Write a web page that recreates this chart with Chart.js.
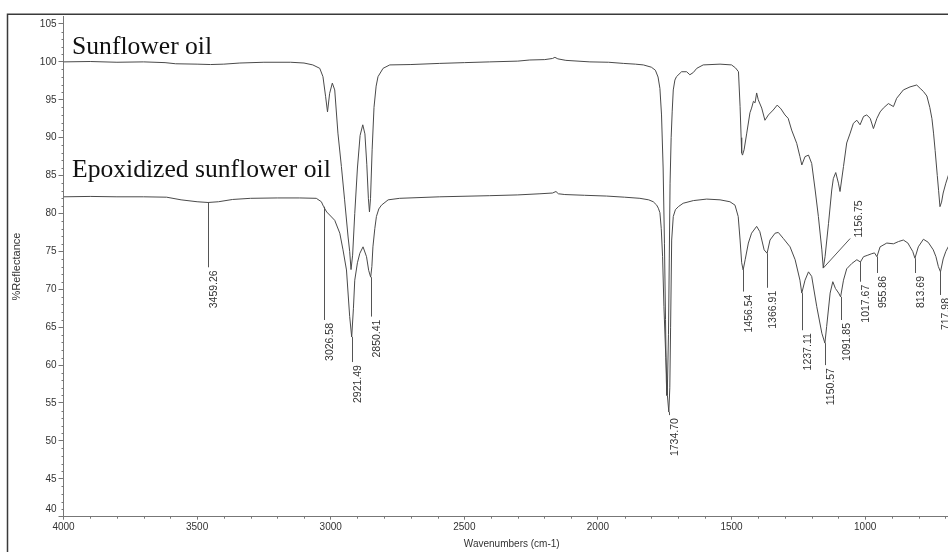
<!DOCTYPE html>
<html>
<head>
<meta charset="utf-8">
<script src="https://cdn.jsdelivr.net/npm/chart.js@4/dist/chart.umd.min.js"></script>
<style>
  html, body { margin: 0; padding: 0; background: #fff; overflow: hidden; }
  canvas { display: block; }
</style>
</head>
<body>
<canvas id="spectrum" width="960" height="552" style="width:960px;height:552px"></canvas>
<script>
// FTIR reflectance spectra (wavenumber in cm-1, %R)
const sunflowerWn = [4000, 3900, 3800, 3700, 3620, 3580, 3500, 3450, 3400, 3340, 3250, 3150, 3100, 3067, 3041, 3029, 3019, 3012, 3004, 2994, 2985, 2973, 2960, 2948, 2935, 2929, 2924, 2918, 2910, 2900, 2890, 2880, 2872, 2865, 2859, 2855, 2851, 2845, 2838, 2830, 2823, 2804, 2779, 2700, 2592, 2500, 2405, 2300, 2255, 2199, 2170, 2161, 2150, 2120, 2030, 1960, 1905, 1860, 1830, 1800, 1785, 1775, 1768, 1762, 1756, 1751, 1747, 1744, 1742, 1740, 1736, 1733, 1730, 1726, 1722, 1718, 1712, 1706, 1687, 1668, 1656, 1643, 1630, 1606, 1543, 1500, 1485, 1474, 1468, 1464, 1462, 1459, 1453, 1443, 1431, 1425, 1418, 1412, 1406, 1400, 1387, 1375, 1362, 1344, 1329, 1315, 1300, 1288, 1275, 1256, 1244, 1237, 1225, 1212, 1200, 1187, 1175, 1162, 1156.75, 1150, 1137, 1125, 1119, 1110, 1100, 1094, 1081, 1069, 1056, 1044, 1031, 1019, 1006, 994, 981, 969, 956, 944, 932, 913, 894, 882, 857, 832, 807, 794, 782, 769, 758, 750, 744, 738, 730, 725, 720, 714, 708, 698, 686];
const sunflowerR = [100.0, 100.05, 99.95, 100.0, 99.9, 99.75, 99.7, 99.65, 99.7, 99.85, 99.95, 99.95, 99.85, 99.6, 99.15, 98.05, 95.4, 93.4, 95.85, 97.2, 96.3, 90.6, 86.2, 81.8, 76.9, 75.0, 72.6, 74.5, 80.0, 86.0, 90.3, 91.7, 90.5, 86.5, 82.0, 80.2, 82.0, 88.4, 94.0, 96.8, 98.05, 99.15, 99.6, 99.65, 99.8, 99.9, 100.0, 100.1, 100.25, 100.3, 100.45, 100.6, 100.4, 100.2, 100.0, 99.95, 99.8, 99.7, 99.6, 99.3, 98.9, 98.0, 96.5, 93.0, 86.0, 76.0, 66.0, 58.0, 56.0, 57.0, 64.0, 74.0, 84.0, 90.0, 93.5, 96.3, 97.6, 98.05, 98.7, 98.7, 98.3, 98.6, 99.15, 99.6, 99.7, 99.6, 99.2, 98.7, 94.1, 90.0, 88.0, 87.7, 88.4, 90.6, 93.3, 93.9, 94.8, 94.6, 95.9, 95.0, 93.9, 92.3, 93.0, 93.65, 94.3, 93.8, 93.0, 92.55, 91.0, 89.25, 87.5, 86.4, 87.5, 87.7, 86.6, 83.1, 79.6, 75.2, 72.8, 74.3, 78.7, 83.1, 84.6, 85.4, 84.0, 82.9, 86.2, 89.3, 90.6, 91.9, 92.3, 91.7, 92.8, 93.0, 92.55, 91.2, 92.55, 93.4, 93.9, 94.5, 94.1, 95.2, 96.3, 96.7, 96.95, 96.5, 96.1, 95.5, 94.0, 92.5, 90.6, 88.3, 85.0, 83.0, 80.9, 81.5, 82.7, 84.0, 85.3];

const epoxyWn = [4000, 3900, 3800, 3700, 3614, 3560, 3500, 3459.26, 3420, 3367, 3300, 3200, 3116, 3054, 3035, 3026.58, 3015, 3004, 2985, 2966, 2954, 2941, 2929, 2921.49, 2915, 2910, 2900, 2891, 2879, 2866, 2858, 2850.41, 2846, 2842, 2835, 2829, 2820, 2810, 2785, 2742, 2592, 2405, 2300, 2217, 2170, 2157, 2148, 2124, 2050, 1968, 1900, 1843, 1810, 1793, 1780, 1774, 1768, 1763, 1758, 1753, 1746, 1740, 1734.70, 1731, 1728, 1724, 1718, 1710, 1699, 1681, 1643, 1593, 1543, 1506, 1487, 1475, 1468, 1462, 1456.54, 1449, 1437, 1425, 1406, 1394, 1378, 1366.91, 1356, 1337, 1325, 1306, 1281, 1262, 1244, 1237.11, 1225, 1212, 1200, 1181, 1162, 1150.57, 1144, 1131, 1121, 1111, 1099, 1091.85, 1081, 1069, 1050, 1031, 1017.67, 1006, 990, 975, 965, 955.86, 944, 919, 894, 875, 857, 840, 832, 822, 813.69, 801, 782, 764, 745, 735, 726, 717.98, 708, 698, 686];
const epoxyR = [82.2, 82.25, 82.2, 82.2, 82.15, 81.8, 81.55, 81.45, 81.55, 81.85, 82.0, 82.05, 82.05, 82.0, 81.55, 80.9, 80.2, 79.8, 79.1, 77.4, 75.2, 72.55, 66.4, 63.7, 67.5, 71.2, 73.5, 74.75, 75.6, 74.3, 72.5, 71.6, 73.0, 75.6, 78.0, 79.6, 80.6, 81.1, 81.8, 82.0, 82.2, 82.35, 82.45, 82.6, 82.7, 82.9, 82.6, 82.5, 82.4, 82.3, 82.15, 82.0, 81.8, 81.55, 81.1, 80.7, 80.1, 78.0, 74.3, 67.7, 61.0, 56.0, 53.8, 57.0, 65.0, 76.5, 79.6, 80.5, 80.9, 81.35, 81.7, 81.9, 81.8, 81.55, 81.1, 79.6, 76.5, 73.5, 72.55, 73.9, 76.1, 77.4, 78.3, 77.6, 75.2, 74.75, 76.5, 77.4, 77.5, 76.7, 75.6, 73.9, 71.2, 69.5, 71.2, 72.3, 71.7, 67.7, 64.2, 62.9, 65.1, 69.5, 71.0, 70.1, 69.5, 69.0, 71.2, 72.7, 73.4, 73.9, 73.6, 74.3, 74.5, 74.7, 74.8, 74.3, 75.6, 76.1, 76.0, 76.3, 76.5, 76.1, 75.6, 75.0, 74.1, 75.6, 76.6, 76.2, 75.2, 74.3, 73.0, 72.3, 74.0, 75.0, 75.8];

// Peak picks on the epoxidized spectrum and where each label's leader ends (%R)
const epoxyPeaks = [3459.26, 3026.58, 2921.49, 2850.41, 1734.70, 1456.54, 1366.91, 1237.11, 1150.57, 1091.85, 1017.67, 955.86, 813.69, 717.98];
const epoxyLabelLevels = [72.9, 65.95, 60.4, 66.4, 53.4, 69.7, 70.2, 64.6, 60.0, 65.95, 71.0, 72.15, 72.15, 69.25];

// Peak pick on the sunflower oil spectrum, with an angled leader
const sunflowerPeaks = [1156.75];
const sunflowerLeaderEnds = [[1056, 76.7]];

// Spectrum captions: anchor wavenumber and %R of the text baseline
const seriesNames = ['Sunflower oil', 'Epoxidized sunflower oil'];
const captionAnchors = [[3968, 101.1], [3968, 84.85]];

// Axis ticks
const xTickValues = [4000, 3500, 3000, 2500, 2000, 1500, 1000];
const yTickValues = [40, 45, 50, 55, 60, 65, 70, 75, 80, 85, 90, 95, 100, 105];
const xMinorStep = 100, yMinorStep = 1;

const toPoints = (wn, r) => wn.map((w, i) => ({ x: w, y: r[i] }));

function valueAt(wn, r, w) {
  for (let i = 0; i < wn.length - 1; i++) {
    const a = wn[i], b = wn[i + 1];
    if (w <= a && w >= b) {
      const t = (a - w) / (a - b);
      return r[i] + t * (r[i + 1] - r[i]);
    }
  }
  return r[r.length - 1];
}

const LINE = '#4a4a4a';
const AXIS = '#777';
const TEXT = '#333';
const SANS = '"Liberation Sans", Arial, sans-serif';

const frame = {
  id: 'frame',
  afterDraw(chart) {
    const ctx = chart.ctx;
    ctx.save();
    ctx.strokeStyle = '#3a3a3a';
    ctx.lineWidth = 1.5;
    ctx.beginPath();
    ctx.moveTo(7.5, 552);
    ctx.lineTo(7.5, 14.25);
    ctx.lineTo(chart.width, 14.25);
    ctx.stroke();
    ctx.restore();
  }
};

const minorTicks = {
  id: 'minorTicks',
  afterDraw(chart) {
    const { ctx, scales: { x, y } } = chart;
    ctx.save();
    ctx.strokeStyle = AXIS;
    ctx.lineWidth = 1;
    ctx.beginPath();
    for (let v = Math.ceil(y.min); v < y.max; v += yMinorStep) {
      if (yTickValues.includes(v)) continue;
      const py = Math.round(y.getPixelForValue(v)) + 0.5;
      ctx.moveTo(x.left - 2, py);
      ctx.lineTo(x.left, py);
    }
    const start = Math.ceil(x.min / xMinorStep) * xMinorStep;
    for (let w = start; w < x.max; w += xMinorStep) {
      if (xTickValues.includes(w)) continue;
      const px = Math.round(x.getPixelForValue(w)) + 0.5;
      ctx.moveTo(px, y.bottom);
      ctx.lineTo(px, y.bottom + 2);
    }
    ctx.stroke();
    // the lowest y label sits just above the x axis
    ctx.fillStyle = TEXT;
    ctx.font = '10px ' + SANS;
    ctx.textAlign = 'right';
    ctx.textBaseline = 'middle';
    ctx.fillText(String(yTickValues[0]), x.left - 7, y.getPixelForValue(yTickValues[0]) - 7);
    ctx.restore();
  }
};

const peakLabels = {
  id: 'peakLabels',
  afterDatasetsDraw(chart) {
    const { ctx, scales: { x, y } } = chart;
    ctx.save();
    ctx.strokeStyle = '#555';
    ctx.lineWidth = 1;
    ctx.fillStyle = TEXT;
    ctx.font = '10.5px ' + SANS;
    ctx.textBaseline = 'middle';

    epoxyPeaks.forEach((w, i) => {
      const px = Math.round(x.getPixelForValue(w)) + 0.5;
      const y0 = y.getPixelForValue(valueAt(epoxyWn, epoxyR, w));
      const y1 = y.getPixelForValue(epoxyLabelLevels[i]);
      ctx.beginPath();
      ctx.moveTo(px, y0);
      ctx.lineTo(px, y1);
      ctx.stroke();
      ctx.save();
      ctx.translate(px + 5.5, y1 + 3);
      ctx.rotate(-Math.PI / 2);
      ctx.textAlign = 'right';
      ctx.fillText(w.toFixed(2), 0, 0);
      ctx.restore();
    });

    sunflowerPeaks.forEach((w, i) => {
      const px = x.getPixelForValue(w);
      const py = y.getPixelForValue(valueAt(sunflowerWn, sunflowerR, w));
      const ex = x.getPixelForValue(sunflowerLeaderEnds[i][0]);
      const ey = y.getPixelForValue(sunflowerLeaderEnds[i][1]);
      ctx.beginPath();
      ctx.moveTo(px, py);
      ctx.lineTo(ex, ey);
      ctx.stroke();
      ctx.save();
      ctx.translate(ex + 8.5, ey - 1);
      ctx.rotate(-Math.PI / 2);
      ctx.textAlign = 'left';
      ctx.fillText(w.toFixed(2), 0, 0);
      ctx.restore();
    });

    ctx.fillStyle = '#111';
    ctx.font = '25.6px "Liberation Serif", "Times New Roman", serif';
    ctx.textAlign = 'left';
    ctx.textBaseline = 'alphabetic';
    seriesNames.forEach((name, i) => {
      ctx.fillText(name, x.getPixelForValue(captionAnchors[i][0]), y.getPixelForValue(captionAnchors[i][1]));
    });
    ctx.restore();
  }
};

new Chart(document.getElementById('spectrum'), {
  type: 'line',
  data: {
    datasets: [
      { label: seriesNames[0], data: toPoints(sunflowerWn, sunflowerR), borderColor: LINE, borderWidth: 1, pointRadius: 0, tension: 0, fill: false },
      { label: seriesNames[1], data: toPoints(epoxyWn, epoxyR), borderColor: LINE, borderWidth: 1, pointRadius: 0, tension: 0, fill: false }
    ]
  },
  options: {
    responsive: false,
    animation: false,
    events: [],
    layout: { padding: { top: 16.4, left: 0, right: 0, bottom: 0 } },
    plugins: { legend: { display: false }, tooltip: { enabled: false } },
    scales: {
      x: {
        type: 'linear',
        reverse: true,
        min: 645,
        max: 4000,
        afterBuildTicks(scale) { scale.ticks = xTickValues.map(v => ({ value: v })); },
        ticks: {
          autoSkip: false,
          maxRotation: 0,
          padding: 2,
          color: TEXT,
          font: { size: 10, family: SANS },
          callback: v => String(v)
        },
        grid: { drawOnChartArea: false, drawTicks: true, tickLength: 3, color: AXIS },
        border: { display: true, color: AXIS, width: 1 },
        title: { display: true, text: 'Wavenumbers (cm-1)', color: TEXT, font: { size: 10, family: SANS }, padding: { top: 0, bottom: 2 } },
        afterFit(scale) { scale.height = 552 - 516.7; }
      },
      y: {
        min: 40,
        max: 106,
        afterBuildTicks(scale) { scale.ticks = yTickValues.map(v => ({ value: v })); },
        ticks: {
          padding: 2,
          color: TEXT,
          font: { size: 10, family: SANS },
          callback: v => (v === yTickValues[0] ? '' : String(v))
        },
        grid: { drawOnChartArea: false, drawTicks: true, tickLength: 5, color: AXIS },
        border: { display: true, color: AXIS, width: 1 },
        title: { display: true, text: '%Reflectance', color: TEXT, font: { size: 11, family: SANS }, padding: { top: 10, bottom: 0 } },
        afterFit(scale) { scale.width = 63.5; }
      }
    }
  },
  plugins: [frame, minorTicks, peakLabels]
});
</script>
</body>
</html>
